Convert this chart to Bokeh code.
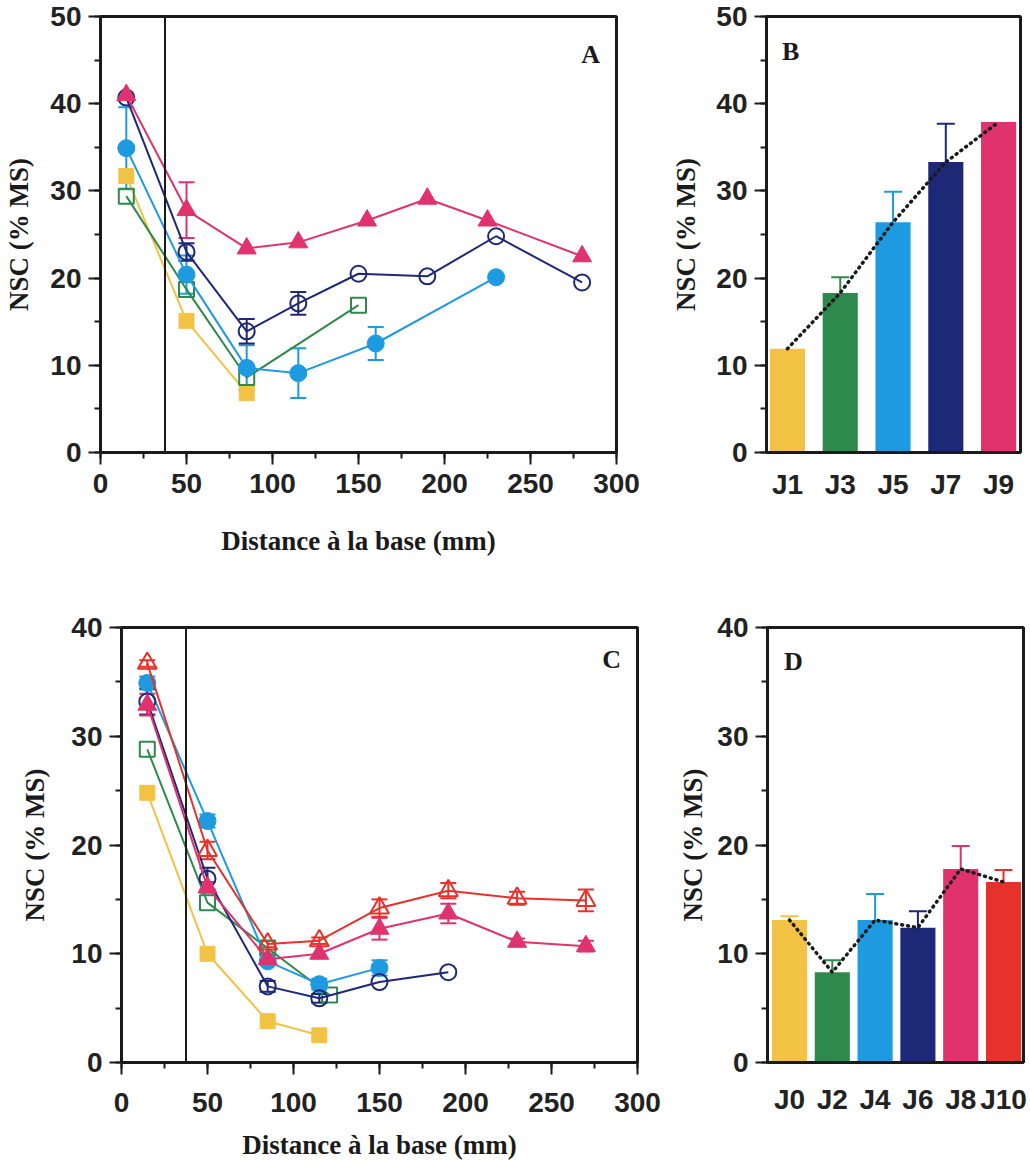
from bokeh.plotting import figure
from bokeh.models import Range1d, SingleIntervalTicker, FixedTicker, Span, Whisker, TeeHead, ColumnDataSource
from bokeh.layouts import column, row
from bokeh.embed import file_html
from bokeh.resources import INLINE
from bokeh.core.properties import value

# ---------------- data ----------------
# Panel A : NSC (% MS) vs distance (mm), days J1..J9
a_j1_x = [15, 50, 85]
a_j1_y = [31.7, 15.1, 6.8]
a_j1_e = [0, 0, 0]
a_j3_x = [15, 50, 85, 150]
a_j3_y = [29.4, 18.7, 8.6, 16.9]
a_j3_e = [0, 0, 0, 0]
a_j5_x = [15, 50, 85, 115, 160, 230]
a_j5_y = [34.9, 20.4, 9.7, 9.1, 12.5, 20.1]
a_j5_e = [4.7, 2.2, 2.6, 2.85, 1.9, 0]
a_j7_x = [15, 50, 85, 115, 150, 190, 230, 280]
a_j7_y = [40.7, 23.0, 13.9, 17.1, 20.5, 20.2, 24.8, 19.5]
a_j7_e = [0, 1.0, 1.4, 1.3, 0, 0, 0, 0]
a_j9_x = [15, 50, 85, 115, 155, 190, 225, 280]
a_j9_y = [41.0, 27.8, 23.4, 24.1, 26.6, 29.1, 26.6, 22.5]
a_j9_e = [0, 3.2, 0, 0, 0, 0, 0, 0]

# Panel B : bars
b_days = ["J1", "J3", "J5", "J7", "J9"]
b_vals = [11.9, 18.3, 26.4, 33.3, 37.9]
b_errs = [0, 1.8, 3.5, 4.4, 0]

# Panel C : NSC (% MS) vs distance (mm), days J0..J10
c_j0_x = [15, 50, 85, 115]
c_j0_y = [24.8, 10.0, 3.8, 2.5]
c_j0_e = [0, 0, 0, 0]
c_j2_x = [15, 50, 85, 121]
c_j2_y = [28.8, 14.7, 10.5, 6.2]
c_j2_e = [0, 0, 0, 0]
c_j4_x = [15, 50, 85, 115, 150]
c_j4_y = [34.9, 22.2, 9.3, 7.2, 8.7]
c_j4_e = [0.6, 0.6, 0, 0.5, 0.7]
c_j6_x = [15, 50, 85, 115, 150, 190]
c_j6_y = [33.2, 16.9, 7.0, 5.9, 7.4, 8.3]
c_j6_e = [1.2, 1.0, 0.5, 0.4, 0, 0]
c_j8_x = [15, 50, 85, 115, 150, 190, 230, 270]
c_j8_y = [32.9, 16.1, 9.5, 10.0, 12.3, 13.7, 11.1, 10.7]
c_j8_e = [1.0, 0.5, 0.5, 0, 1.0, 0.9, 0.3, 0.5]
c_j10_x = [15, 50, 85, 115, 150, 190, 230, 270]
c_j10_y = [36.7, 19.5, 10.9, 11.2, 14.2, 15.8, 15.1, 14.9]
c_j10_e = [0.3, 0.8, 0.3, 0.3, 0.8, 0.7, 0.6, 1.0]

# Panel D : bars
d_days = ["J0", "J2", "J4", "J6", "J8", "J10"]
d_vals = [13.1, 8.3, 13.1, 12.4, 17.8, 16.6]
d_errs = [0.35, 1.1, 2.4, 1.5, 2.1, 1.1]

root_zone_mm = 37.5

# ---------------- style ----------------
YELLOW = "#f2c244"
GREEN = "#2e8a4c"
CYAN = "#1e9be0"
NAVY = "#1d2877"
PINK = "#e0336e"
RED = "#e6322b"
INK = "#1a1a1a"

TICK_FONT = "Liberation Sans"
LABEL_FONT = "Liberation Serif"


def style_axes(p, ylab_standoff, xlab_standoff, xlabel_standoff_ticks):
    for ax in (p.xaxis[0], p.yaxis[0]):
        ax.axis_line_width = 3
        ax.axis_line_color = INK
        ax.major_tick_line_width = 2
        ax.minor_tick_line_width = 2
        ax.major_tick_line_color = INK
        ax.minor_tick_line_color = INK
        ax.major_tick_out = 12
        ax.major_tick_in = 0
        ax.minor_tick_out = 6
        ax.minor_tick_in = 0
        ax.major_label_text_font = TICK_FONT
        ax.major_label_text_font_style = "bold"
        ax.major_label_text_font_size = "28px"
        ax.major_label_text_color = "#222222"
        ax.axis_label_text_font = LABEL_FONT
        ax.axis_label_text_font_style = "bold"
        ax.axis_label_text_font_size = "27px"
        ax.axis_label_text_color = INK
    p.yaxis[0].axis_label_standoff = ylab_standoff
    p.yaxis[0].major_label_standoff = 7
    p.xaxis[0].axis_label_standoff = xlab_standoff
    p.xaxis[0].major_label_standoff = xlabel_standoff_ticks
    p.outline_line_color = INK
    p.outline_line_width = 3
    p.xgrid.visible = False
    p.ygrid.visible = False
    p.background_fill_color = "white"
    p.border_fill_color = "white"


def series(p, xs, ys, es, color, marker, size, filled):
    p.line(xs, ys, line_color=color, line_width=2)
    bx = [x for x, e in zip(xs, es) if e > 0]
    by = [y for y, e in zip(ys, es) if e > 0]
    be = [e for e in es if e > 0]
    if bx:
        src = ColumnDataSource(dict(base=bx, upper=[y + e for y, e in zip(by, be)],
                                    lower=[y - e for y, e in zip(by, be)]))
        w = Whisker(source=src, base="base", upper="upper", lower="lower",
                    line_color=color, line_width=2,
                    upper_head=TeeHead(size=16, line_color=color, line_width=2),
                    lower_head=TeeHead(size=16, line_color=color, line_width=2))
        p.add_layout(w)
    if filled:
        p.scatter(xs, ys, marker=marker, size=size, fill_color=color, line_color=color, line_width=1)
    else:
        p.scatter(xs, ys, marker=marker, size=size, fill_alpha=0, line_color=color, line_width=2)


def bar_panel(p, days, vals, errs, colors, bar_width):
    xs = list(range(len(days)))
    p.vbar(x=xs, top=vals, width=bar_width, fill_color=colors, line_color=None)
    bx = [x for x, e in zip(xs, errs) if e > 0]
    if bx:
        src = ColumnDataSource(dict(base=bx,
                                    upper=[v + e for v, e in zip(vals, errs) if e > 0],
                                    lower=[v for v, e in zip(vals, errs) if e > 0],
                                    col=[c for c, e in zip(colors, errs) if e > 0]))
        w = Whisker(source=src, base="base", upper="upper", lower="lower",
                    line_color="col", line_width=2,
                    upper_head=TeeHead(size=18, line_color="col", line_width=2),
                    lower_head=None)
        p.add_layout(w)
    p.line(xs, vals, line_color=INK, line_width=3.5, line_dash="1 5", line_cap="round")
    p.xaxis[0].ticker = FixedTicker(ticks=xs)
    p.xaxis[0].major_label_overrides = {i: d for i, d in enumerate(days)}
    p.xaxis[0].major_tick_out = 0
    p.xaxis[0].minor_tick_out = 0


def letter(p, x, y, t):
    p.text(x=[x], y=[y], text=[t], text_font=value(LABEL_FONT), text_font_style="bold",
           text_font_size="26px", text_align="center", text_baseline="middle", text_color=INK)


# ---------------- Panel A ----------------
pA = figure(width=668, height=568, output_backend="svg", toolbar_location=None,
            x_range=Range1d(0, 300), y_range=Range1d(0, 50),
            min_border_left=100, min_border_right=52, min_border_top=16, min_border_bottom=115,
            x_axis_label="Distance à la base (mm)", y_axis_label="NSC (% MS)")
pA.xaxis[0].ticker = SingleIntervalTicker(interval=50, num_minor_ticks=2)
pA.yaxis[0].ticker = SingleIntervalTicker(interval=10, num_minor_ticks=2)
style_axes(pA, 13, 30, 9)
pA.add_layout(Span(location=root_zone_mm, dimension="height", line_color=INK, line_width=2))
series(pA, a_j1_x, a_j1_y, a_j1_e, YELLOW, "square", 15, True)
series(pA, a_j3_x, a_j3_y, a_j3_e, GREEN, "square", 15, False)
series(pA, a_j5_x, a_j5_y, a_j5_e, CYAN, "circle", 17, True)
series(pA, a_j7_x, a_j7_y, a_j7_e, NAVY, "circle", 16, False)
series(pA, a_j9_x, a_j9_y, a_j9_e, PINK, "triangle", 19, True)
letter(pA, 285, 45.6, "A")

# ---------------- Panel B ----------------
pB = figure(width=362, height=568, output_backend="svg", toolbar_location=None,
            x_range=Range1d(-0.397, 4.415), y_range=Range1d(0, 50),
            min_border_left=94, min_border_right=10, min_border_top=16, min_border_bottom=116,
            y_axis_label="NSC (% MS)")
pB.yaxis[0].ticker = SingleIntervalTicker(interval=10, num_minor_ticks=2)
style_axes(pB, 12, 10, 16)
bar_panel(pB, b_days, b_vals, b_errs, [YELLOW, GREEN, CYAN, NAVY, PINK], 0.665)
letter(pB, 0.06, 46, "B")

# ---------------- Panel C ----------------
pC = figure(width=668, height=596, output_backend="svg", toolbar_location=None,
            x_range=Range1d(0, 300), y_range=Range1d(0, 40),
            min_border_left=121, min_border_right=31, min_border_top=58, min_border_bottom=102,
            x_axis_label="Distance à la base (mm)", y_axis_label="NSC (% MS)")
pC.xaxis[0].ticker = SingleIntervalTicker(interval=50, num_minor_ticks=2)
pC.yaxis[0].ticker = SingleIntervalTicker(interval=10, num_minor_ticks=2)
style_axes(pC, 18, 15, 18)
pC.add_layout(Span(location=root_zone_mm, dimension="height", line_color=INK, line_width=2))
series(pC, c_j0_x, c_j0_y, c_j0_e, YELLOW, "square", 15, True)
series(pC, c_j2_x, c_j2_y, c_j2_e, GREEN, "square", 15, False)
series(pC, c_j4_x, c_j4_y, c_j4_e, CYAN, "circle", 17, True)
series(pC, c_j6_x, c_j6_y, c_j6_e, NAVY, "circle", 16, False)
series(pC, c_j8_x, c_j8_y, c_j8_e, PINK, "triangle", 19, True)
series(pC, c_j10_x, c_j10_y, c_j10_e, RED, "triangle", 19, False)
letter(pC, 285, 37.1, "C")

# ---------------- Panel D ----------------
pD = figure(width=362, height=596, output_backend="svg", toolbar_location=None,
            x_range=Range1d(-0.514, 5.467), y_range=Range1d(0, 40),
            min_border_left=99, min_border_right=7, min_border_top=59, min_border_bottom=102,
            y_axis_label="NSC (% MS)")
pD.yaxis[0].ticker = SingleIntervalTicker(interval=10, num_minor_ticks=2)
style_axes(pD, 6, 10, 21)
bar_panel(pD, d_days, d_vals, d_errs, [YELLOW, GREEN, CYAN, NAVY, PINK, RED], 0.82)
letter(pD, 0.09, 36.9, "D")

layout = column(row(pA, pB, spacing=0), row(pC, pD, spacing=0), spacing=0)
open("out.html", "w").write(file_html(layout, INLINE))
